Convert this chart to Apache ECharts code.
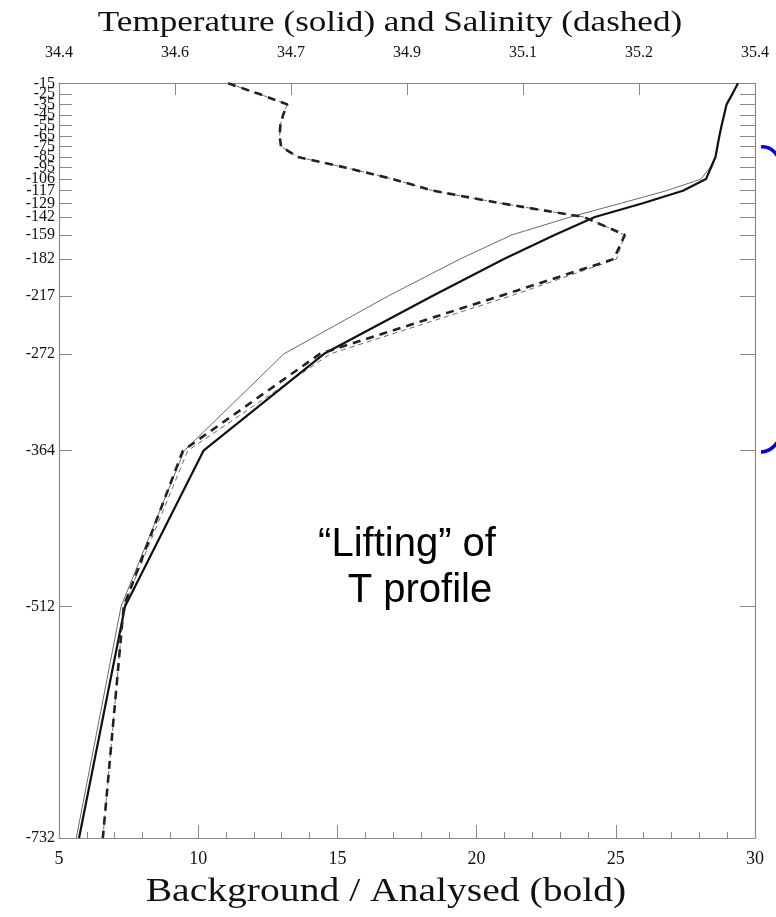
<!DOCTYPE html>
<html><head><meta charset="utf-8">
<script src="https://cdn.jsdelivr.net/npm/echarts@6/dist/echarts.min.js"></script>
<style>html,body{margin:0;padding:0;background:#fff}#c{width:776px;height:917px}</style>
</head><body><div id="c"></div>
<script>
// Depth levels (m)
const depths = [-15,-25,-35,-45,-55,-65,-75,-85,-95,-106,-117,-129,-142,-159,-182,-217,-272,-364,-512,-732];
// Temperature (°C)
const tempAnalysed   = [29.39,29.19,28.98,28.89,28.80,28.72,28.65,28.58,28.42,28.24,27.41,25.97,24.25,22.80,20.98,18.41,14.52,10.19,7.37,5.72];
const tempBackground = [29.39,29.19,28.98,28.89,28.80,28.72,28.65,28.58,28.38,28.06,26.82,25.18,23.37,21.27,19.40,16.83,13.08,9.50,7.23,5.62];
// Salinity (psu)
const salAnalysed    = [34.643,34.687,34.728,34.722,34.718,34.717,34.719,34.743,34.811,34.880,34.937,35.035,35.154,35.213,35.197,35.034,34.775,34.578,34.493,34.463];
const salBackground  = [34.643,34.687,34.728,34.722,34.718,34.717,34.719,34.743,34.811,34.880,34.937,35.035,35.154,35.213,35.201,35.049,34.790,34.585,34.493,34.463];
// Tick labels
const depthTicks = [-15,-25,-35,-45,-55,-65,-75,-85,-95,-106,-117,-129,-142,-159,-182,-217,-272,-364,-512,-732];
const tempTicks = [5,10,15,20,25,30];
const salTicks = [34.4,34.56667,34.73333,34.9,35.06667,35.23333,35.4];

const SERIF = '"Liberation Serif","DejaVu Serif",serif';
const frame = {show:true, lineStyle:{color:'#8a8a8a', width:1.2}};
const chart = echarts.init(document.getElementById('c'), null, {renderer:'canvas'});
const pair = (xs) => xs.map((v,i)=>[v, depths[i]]);
// split labels into two interleaved sets so that neither set overlaps internally
const labelsA = depthTicks.filter((_, i) => i % 2 === 0);
const labelsB = depthTicks.filter((_, i) => i % 2 === 1);
const yLabel = (vals) => ({customValues:vals, color:'#111', fontFamily:SERIF, fontSize:16, margin:4,
  hideOverlap:false, showMinLabel:true, showMaxLabel:true, formatter:(v)=>String(v)});
const Y_MIN = -732, Y_MAX = -14.7;

chart.setOption({
  animation:false,
  backgroundColor:'#fff',
  grid:{left:59, right:21, top:83, bottom:79, containLabel:false},
  xAxis:[
    {type:'value', position:'bottom', min:5, max:30, interval:5,
     axisLine:frame,
     axisTick:{show:true, inside:true, length:13, lineStyle:{color:'#8a8a8a'}},
     minorTick:{show:true, splitNumber:5, length:6, lineStyle:{color:'#8a8a8a'}},
     splitLine:{show:false},
     axisLabel:{color:'#111', fontFamily:SERIF, fontSize:18, margin:12, showMinLabel:true, showMaxLabel:true}},
    {type:'value', position:'top', min:34.4, max:35.4,
     axisLine:frame,
     axisTick:{show:true, inside:true, length:12, lineStyle:{color:'#8a8a8a'}, customValues:salTicks},
     splitLine:{show:false},
     axisLabel:{color:'#111', fontFamily:SERIF, fontSize:16, margin:22, showMinLabel:true, showMaxLabel:true,
       customValues:salTicks, formatter:(v)=>Number(v).toFixed(1)}}
  ],
  yAxis:[
    {type:'value', position:'left', min:Y_MIN, max:Y_MAX,
     axisLine:frame,
     axisTick:{show:true, inside:true, length:13, lineStyle:{color:'#8a8a8a'}, customValues:depthTicks},
     splitLine:{show:false},
     axisLabel:yLabel(labelsA)},
    {type:'value', position:'right', min:Y_MIN, max:Y_MAX,
     axisLine:frame,
     axisTick:{show:true, inside:true, length:15, lineStyle:{color:'#8a8a8a'}, customValues:depthTicks},
     splitLine:{show:false},
     axisLabel:{show:false}},
    {type:'value', position:'left', min:Y_MIN, max:Y_MAX,
     axisLine:{show:false}, axisTick:{show:false}, splitLine:{show:false},
     axisLabel:yLabel(labelsB)}
  ],
  series:[
    {type:'line', xAxisIndex:0, yAxisIndex:0, data:pair(tempBackground), symbol:'none',
     lineStyle:{color:'#6a6a6a', width:1}, z:2},
    {type:'line', xAxisIndex:0, yAxisIndex:0, data:pair(tempAnalysed), symbol:'none',
     lineStyle:{color:'#111', width:2.2}, z:3},
    {type:'line', xAxisIndex:1, yAxisIndex:0, data:pair(salBackground), symbol:'none',
     lineStyle:{color:'#6a6a6a', width:1, type:[5,4]}, z:2},
    {type:'line', xAxisIndex:1, yAxisIndex:0, data:pair(salAnalysed), symbol:'none',
     lineStyle:{color:'#222', width:2.6, type:[8,6]}, z:3}
  ],
  graphic:[
    {type:'text', x:390, y:23, scaleX:1.17, originX:0, originY:0,
     style:{text:'Temperature (solid) and Salinity (dashed)', font:'30px '+SERIF, fill:'#111', textAlign:'center', textVerticalAlign:'middle'}},
    {type:'text', x:386, y:892, scaleX:1.2, originX:0, originY:0,
     style:{text:'Background / Analysed (bold)', font:'33px '+SERIF, fill:'#111', textAlign:'center', textVerticalAlign:'middle'}},
    {type:'text', x:407, y:545, style:{text:'\u201cLifting\u201d of', font:'40px "Liberation Sans",Arial,sans-serif', fill:'#000', textAlign:'center', textVerticalAlign:'middle'}},
    {type:'text', x:420, y:591, style:{text:'T profile', font:'40px "Liberation Sans",Arial,sans-serif', fill:'#000', textAlign:'center', textVerticalAlign:'middle'}},
    {type:'bezierCurve', shape:{x1:761,y1:147,cpx1:768,cpy1:146,cpx2:774,cpy2:150,x2:779,y2:158}, style:{stroke:'#0000ee', lineWidth:3.5, fill:null}},
    {type:'bezierCurve', shape:{x1:761,y1:452,cpx1:768,cpy1:452,cpx2:774,cpy2:448,x2:779,y2:440}, style:{stroke:'#0000ee', lineWidth:3.5, fill:null}}
  ]
});
</script></body></html>
